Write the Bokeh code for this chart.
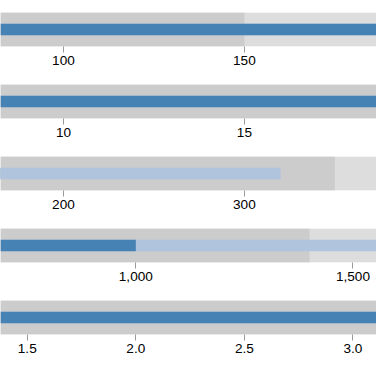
from bokeh.plotting import figure
from bokeh.layouts import column
from bokeh.models import Range1d, FixedTicker, NumeralTickFormatter
from bokeh.embed import file_html
from bokeh.resources import INLINE

# Bullet chart data (titles are outside the visible crop)
titles = ["Revenue", "Profit", "Order Size", "New Customers", "Satisfaction"]
ranges = [[150, 225, 300], [20, 25, 30], [350, 500, 600], [1400, 2000, 2500], [3.5, 4.25, 5]]
measures = [[220, 270], [21, 23], [100, 320], [1000, 1650], [3.2, 4.7]]
markers = [[250], [26], [550], [2100], [4.4]]
tick_values = [
    [0, 50, 100, 150, 200, 250, 300],
    [0, 5, 10, 15, 20, 25, 30],
    [0, 100, 200, 300, 400, 500, 600],
    [0, 500, 1000, 1500, 2000, 2500],
    [0, 0.5, 1, 1.5, 2, 2.5, 3, 3.5, 4, 4.5, 5],
]
tick_formats = ["0", "0", "0", "0,0", "0.0"]

# visible window as fraction of each scale's maximum (the view is cropped)
view_start, view_end = 0.27536, 0.62168

range_colors = ["#eeeeee", "#dddddd", "#cccccc"]   # largest first
measure_colors = ["#b0c4de", "#4682b4"]            # largest first

figs = []
for i in range(len(titles)):
    mx = max(max(ranges[i]), max(measures[i]), max(markers[i]))
    p = figure(width=376, height=72, output_backend="svg", toolbar_location=None,
               x_range=Range1d(view_start * mx, view_end * mx), y_range=Range1d(0, 1),
               min_border_left=0, min_border_right=0, min_border_top=12, min_border_bottom=26)
    p.outline_line_color = None
    p.background_fill_color = "white"
    p.border_fill_color = "white"
    p.yaxis.visible = False
    p.xgrid.visible = False
    p.ygrid.visible = False

    rs = sorted(ranges[i], reverse=True)
    for v, c in zip(rs, range_colors):
        p.hbar(y=[0.5], left=[0], right=[v], height=1, fill_color=c, line_color=None)
    ms = sorted(measures[i], reverse=True)
    for v, c in zip(ms, measure_colors):
        p.hbar(y=[0.5], left=[0], right=[v], height=1 / 3, fill_color=c, line_color=None)
    for m in markers[i]:
        p.segment(x0=[m], x1=[m], y0=[1 / 6], y1=[5 / 6], line_color="#000000", line_width=2.7)

    ax = p.xaxis[0]
    ax.ticker = FixedTicker(ticks=tick_values[i])
    ax.formatter = NumeralTickFormatter(format=tick_formats[i])
    ax.axis_line_color = None
    ax.minor_tick_line_color = None
    ax.major_tick_in = 0
    ax.major_tick_out = 6
    ax.major_tick_line_color = "#999999"
    ax.major_tick_line_width = 1
    ax.major_label_standoff = 3
    ax.major_label_text_font = "Liberation Sans"
    ax.major_label_text_font_size = "13.6px"
    ax.major_label_text_color = "#000000"
    figs.append(p)

layout = column(*figs, spacing=0)
open("out.html", "w").write(file_html(layout, INLINE))
